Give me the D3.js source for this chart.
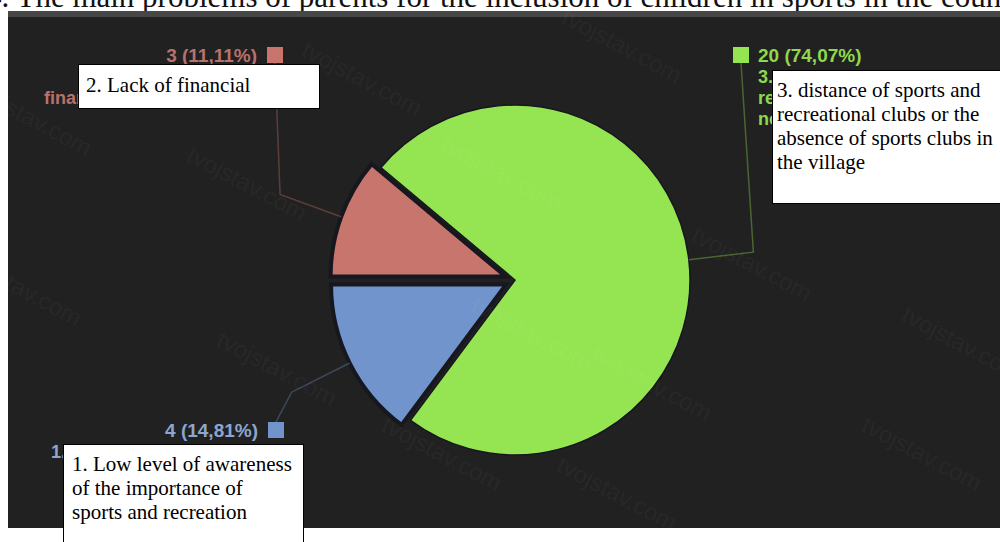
<!DOCTYPE html>
<html>
<head>
<meta charset="utf-8">
<script src="https://cdn.jsdelivr.net/npm/d3@7"></script>
<style>
  body { margin: 0; background: #fff; overflow: hidden; }
  svg { display: block; }
</style>
</head>
<body>
<svg id="chart" width="1000" height="542"></svg>
<script>
// Pie: main problems of parents — dark chart screenshot with white caption boxes on top
const titleText = "4. The main problems of parents for the inclusion of children in sports in the country";

// order = drawing order around the pie (1, 2, 3)
const counts = [4, 3, 20];
const sliceColors = ["#7294cc", "#c8766d", "#95e552"];
const valueColors = ["#8ea6cf", "#b8726b", "#8ed84e"];

// category labels of the original chart (mostly hidden under the boxes)
const hiddenLabels = [
    ["1. Low awareness of the"],
    ["2. Lack of", "financial means in family"],
    ["3. distance of sports and", "recreational clubs or the", "no sports clubs in the village"]
];

// caption boxes laid over the chart
const boxLines = [
    ["1. Low level of awareness", "of the importance of", "sports and recreation"],
    ["2. Lack of financial"],
    ["3. distance of sports and", "recreational clubs or the", "absence of sports clubs in", "the village"]
];

const watermark = "tvojstav.com";

(function () {
    const W = 1000, H = 542;
    const svg = d3.select('#chart');

    // title line of the document, cut off at the top
    svg.append('text')
        .attr('x', -14).attr('y', 7)
        .attr('font-family', '"Liberation Serif", "Times New Roman", serif')
        .attr('font-size', 31)
        .attr('fill', '#111')
        .text(titleText);

    // dark chart panel
    const panel = { x: 8, y: 11, w: W - 8, h: 517 };
    svg.append('rect')
        .attr('x', panel.x).attr('y', panel.y)
        .attr('width', panel.w).attr('height', panel.h)
        .attr('fill', '#212121');
    svg.append('rect')
        .attr('x', panel.x).attr('y', panel.y)
        .attr('width', panel.w).attr('height', 6)
        .attr('fill', '#474747');

    const cx = 515, cy = 280, radius = 175;
    const total = d3.sum(counts);
    const pct = v => (v / total * 100).toFixed(2).replace('.', ',');

    // slice 1 ends at 9 o'clock
    const start = Math.PI * 1.5 - counts[0] / total * Math.PI * 2;
    const pie = d3.pie().sort(null).startAngle(start).endAngle(start + Math.PI * 2);
    const arcs = pie(counts);
    const arc = d3.arc().innerRadius(0).outerRadius(radius);
    const explode = [10, 10, 0];

    const polar = (a, r) => [Math.sin(a) * r, -Math.cos(a) * r];

    const g = svg.append('g').attr('transform', `translate(${cx},${cy})`);

    // leader lines + value labels
    const labelPos = [
        { x: 276, y: 430, side: 'left', below: true },
        { x: 275, y: 55, side: 'left', below: false },
        { x: 741, y: 55, side: 'right', below: false }
    ];

    arcs.forEach((d, i) => {
        const mid = (d.startAngle + d.endAngle) / 2;
        const p0 = polar(mid, radius + explode[i]);
        const p1 = polar(mid, radius + 65 + explode[i]);
        const lp = labelPos[i];
        const sqY = lp.below ? lp.y - 8 : lp.y + 8;
        const pts = [
            [cx + p0[0], cy + p0[1]],
            [cx + p1[0], cy + p1[1]],
            [lp.x, sqY]
        ];
        svg.append('path')
            .attr('d', d3.line()(pts))
            .attr('fill', 'none')
            .attr('stroke', sliceColors[i])
            .attr('stroke-opacity', 0.35)
            .attr('stroke-width', 1.5);
    });

    // pie slices
    g.selectAll('path.slice')
        .data(arcs)
        .enter().append('path')
        .attr('class', 'slice')
        .attr('d', arc)
        .attr('transform', (d, i) => {
            const o = polar((d.startAngle + d.endAngle) / 2, explode[i]);
            return `translate(${o[0]},${o[1]})`;
        })
        .attr('fill', (d, i) => sliceColors[i])
        .attr('stroke', '#17171f')
        .attr('stroke-width', (d, i) => explode[i] ? 4 : 1.5)
        .attr('stroke-linejoin', 'miter');

    // faint watermarks
    const labelFont = '"Liberation Sans", Arial, sans-serif';
    const marks = [[560, 22], [300, 55], [-30, 95], [185, 160], [-40, 265], [690, 240],
                   [215, 345], [590, 360], [900, 320], [860, 430], [380, 430], [555, 470],
                   [440, 150], [470, 310]];
    marks.forEach(m => {
        svg.append('text')
            .attr('transform', `translate(${m[0]},${m[1]}) rotate(28)`)
            .attr('font-family', labelFont)
            .attr('font-size', 24)
            .attr('fill', '#fff')
            .attr('fill-opacity', 0.05)
            .text(watermark);
    });

    // value labels with squares
    arcs.forEach((d, i) => {
        const lp = labelPos[i];
        svg.append('rect')
            .attr('x', lp.x - 8).attr('y', lp.y - 8)
            .attr('width', 16).attr('height', 16)
            .attr('fill', sliceColors[i]);
        const left = lp.side === 'left';
        const tx = left ? lp.x - 18 : lp.x + 17;
        const anchor = left ? 'end' : 'start';
        svg.append('text')
            .attr('x', tx).attr('y', lp.y + 7)
            .attr('text-anchor', anchor)
            .attr('font-family', labelFont)
            .attr('font-weight', 'bold')
            .attr('font-size', 19)
            .attr('fill', valueColors[i])
            .text(`${counts[i]} (${pct(counts[i])}%)`);
        hiddenLabels[i].forEach((line, k) => {
            svg.append('text')
                .attr('x', tx).attr('y', lp.y + 7 + 21 * (k + 1))
                .attr('text-anchor', anchor)
                .attr('font-family', labelFont)
                .attr('font-weight', 'bold')
                .attr('font-size', 18)
                .attr('fill', valueColors[i])
                .text(line);
        });
    });

    // white caption boxes
    const boxes = [
        { x: 63, y: 444, w: 240, h: 110, tx: 72, ty: 471 },
        { x: 78, y: 64, w: 241, h: 44, tx: 86, ty: 92 },
        { x: 772, y: 70, w: 235, h: 133, tx: 777, ty: 97 }
    ];
    boxes.forEach((b, i) => {
        svg.append('rect')
            .attr('x', b.x + 0.5).attr('y', b.y + 0.5)
            .attr('width', b.w).attr('height', b.h)
            .attr('fill', '#fff')
            .attr('stroke', '#000')
            .attr('stroke-width', 1);
        boxLines[i].forEach((line, k) => {
            svg.append('text')
                .attr('x', b.tx).attr('y', b.ty + 24 * k)
                .attr('font-family', '"Liberation Serif", "Times New Roman", serif')
                .attr('font-size', 21)
                .attr('fill', '#000')
                .text(line);
        });
    });
})();
</script>
</body>
</html>
